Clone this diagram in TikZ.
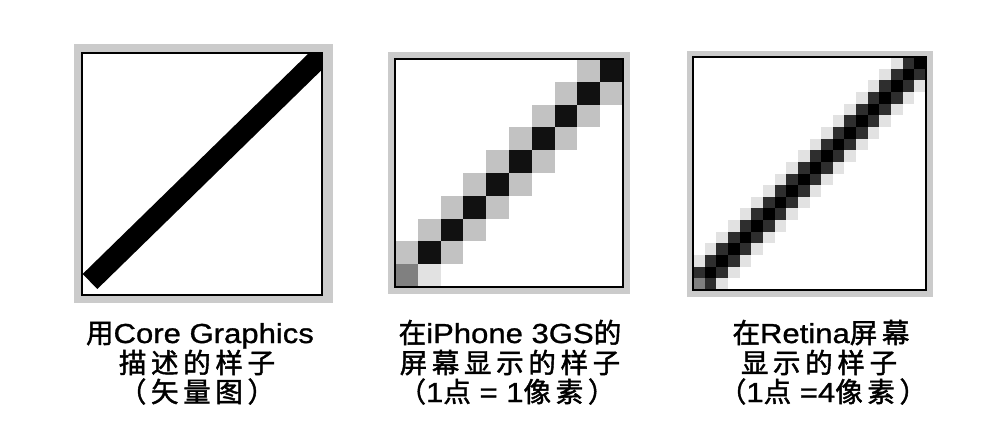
\documentclass[tikz,border=0pt]{standalone}
\usepackage{fontspec}
\setmainfont{Liberation Sans}[FakeStretch=1.13, FakeBold=1]
\newfontfamily\cjk{Noto Sans CJK SC}[LetterSpace=17, FakeBold=1.6]
\usepackage{tikz}
\usetikzlibrary{positioning}

\definecolor{framegray}{HTML}{CBCBCB}
\definecolor{pxlight}{HTML}{C2C2C2}
\definecolor{pxfaint}{HTML}{E2E2E2}
\definecolor{pxdark}{HTML}{2E2E2E}
\definecolor{pxblack}{HTML}{111111}
\definecolor{pxmid}{HTML}{808080}

\newcommand{\zh}[1]{{\cjk\fontsize{27.5}{30}\selectfont #1}}

\tikzset{
  captext/.style={anchor=base, inner sep=0pt, font=\fontsize{27.5}{30}\selectfont},
  boxline/.style={draw=black, line width=2pt},
  px/.style={fill=#1, draw=none}
}

\begin{document}
\begin{tikzpicture}[x=1pt, y=-1pt]
    \useasboundingbox (0,0) rectangle (996,433);

    % vector drawing
    \fill[framegray] (74,44) rectangle (333,303);
    \fill[white] (82,53) rectangle (322,295);
    \coordinate (a) at (90,281.5);
    \coordinate (b) at (340,37.4);
    \begin{scope}
      \clip (82,53) rectangle (322,295);
      \draw[line width=21pt] (a) -- (b);
    \end{scope}
    \draw[boxline] (82,53) rectangle (322,295);

    % 1 point = 1 pixel
    \fill[framegray] (388,52) rectangle (630,294);
    \fill[white] (395,59) rectangle (623,287);
    \coordinate (o2) at (395,287);
    \begin{scope}[shift={(o2)}, x=22.8pt, y=22.8pt]
      \foreach \k in {1,...,9} {
        \pgfmathtruncatemacro\j{\k-1}
        \fill[px=pxblack] (\k,\k) rectangle ++(1,1);
        \fill[px=pxlight] (\j,\k) rectangle ++(1,1);
        \ifnum\k>1 \fill[px=pxlight] (\k,\j) rectangle ++(1,1); \fi
      }
      \fill[px=pxmid] (0,0) rectangle ++(1,1);
      \fill[px=pxfaint] (1,0) rectangle ++(1,1);
    \end{scope}
    \draw[boxline] (395,59) rectangle (623,287);

    % 1 point = 4 pixels
    \fill[framegray] (687,51) rectangle (933,297);
    \fill[white] (693,57) rectangle (926,290);
    \coordinate (o3) at (693,290);
    \begin{scope}[shift={(o3)}, x=11.65pt, y=11.65pt]
      \foreach \r in {0,...,19} {
        \foreach \d/\col in {-2/pxfaint,-1/pxdark,1/pxdark,2/pxfaint} {
          \pgfmathtruncatemacro\c{\r+\d}
          \ifnum\c>-1 \ifnum\c<20
            \fill[px=\col] (\c,\r) rectangle ++(1,1);
          \fi\fi
        }
        \fill[px=black] (\r,\r) rectangle ++(1,1);
      }
      \fill[px=pxmid] (0,0) rectangle ++(1,1);
    \end{scope}
    \draw[boxline] (693,57) rectangle (926,290);

    % captions
    \node[captext] (t1a) at (200,343) {\zh{用}Core Graphics};
    \node[captext] (t1b) at (197,373) {\zh{描述的样子}};
    \node[captext] (t1c) at (197,402) {\zh{（矢量图）}};

    \node[captext] (t2a) at (510,343) {\zh{在}iPhone 3GS\zh{的}};
    \node[captext] (t2b) at (510,373) {\zh{屏幕显示的样子}};
    \node[captext] (t2c) at (507,402) {\zh{（}1\zh{点} = 1\zh{像素）}};

    \node[captext] (t3a) at (821,343) {\zh{在}Retina\zh{屏幕}};
    \node[captext] (t3b) at (819,373) {\zh{显示的样子}};
    \node[captext] (t3c) at (823,402) {\zh{（}1\zh{点} =4\zh{像素）}};
\end{tikzpicture}
\end{document}
